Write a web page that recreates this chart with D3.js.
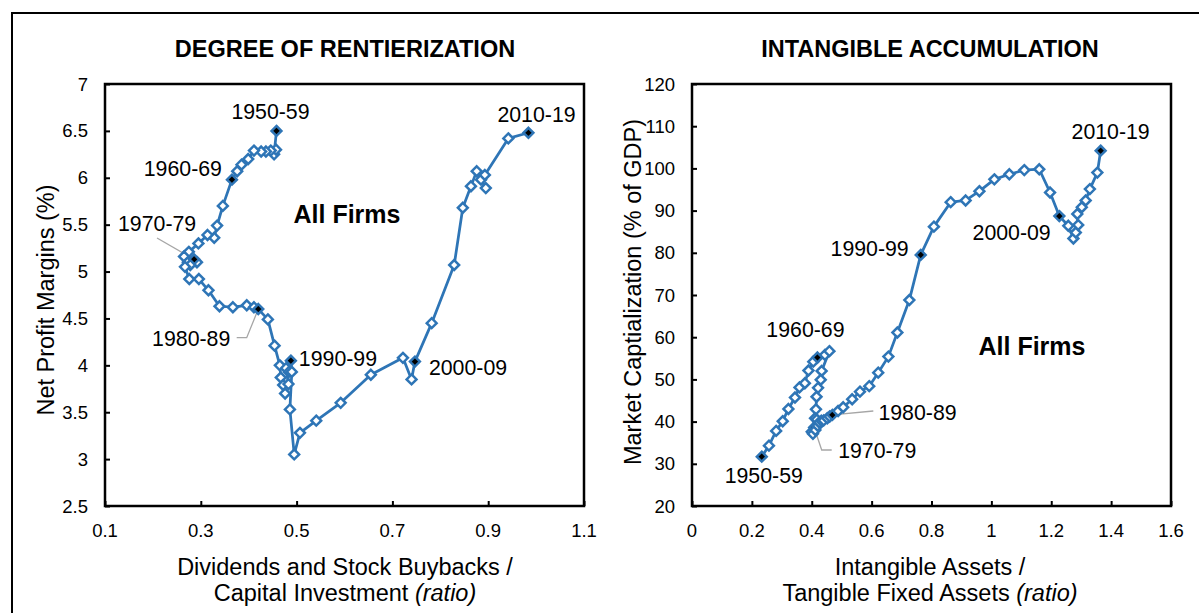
<!DOCTYPE html>
<html><head><meta charset="utf-8">
<script src="https://cdn.jsdelivr.net/npm/d3@7"></script>
<style>
html,body{margin:0;padding:0;background:#fff;}
svg{display:block;font-family:"Liberation Sans",Arial,sans-serif;}
</style></head>
<body><svg id="c" width="1199" height="613"></svg>
<script>
// ---------- DATA ----------
const decadeLabels = ["1950-59","1960-69","1970-79","1980-89","1990-99","2000-09","2010-19"];

// Left chart: Degree of rentierization (10-yr windows, 1950-59 ... 2010-19)
const rentX = [
 0.458,0.453,0.457,0.446,0.436,0.426,0.411,0.399,0.385,0.376,
 0.365,0.346,0.334,0.328,0.314,0.295,0.275,0.265,0.273,0.292,
 0.286,0.278,0.267,0.276,0.296,0.316,0.339,0.367,0.396,0.411,
 0.420,0.440,0.454,0.465,0.467,0.476,0.472,0.483,0.478,0.484,
 0.488,0.490,0.486,0.495,0.507,0.541,0.592,0.655,0.722,0.740,
 0.747,0.782,0.829,0.847,0.864,0.876,0.895,0.885,0.893,0.942,
 0.984];
const rentY = [
 6.50,6.25,6.30,6.29,6.28,6.28,6.29,6.20,6.14,6.07,
 5.98,5.70,5.49,5.36,5.39,5.30,5.21,5.16,5.10,5.10,
 5.13,5.07,5.05,4.92,4.92,4.80,4.63,4.62,4.64,4.62,
 4.60,4.49,4.21,4.00,3.87,3.70,3.79,3.80,3.97,3.93,
 4.05,3.93,3.53,3.05,3.28,3.41,3.60,3.90,4.08,3.85,
 4.04,4.45,5.07,5.68,5.91,6.07,5.89,5.98,6.03,6.42,
 6.48];

// Right chart: Intangible accumulation
const intX = [
 0.233,0.257,0.281,0.303,0.322,0.344,0.359,0.377,0.389,0.405,
 0.419,0.444,0.459,0.433,0.430,0.421,0.416,0.414,0.411,0.400,
 0.408,0.404,0.412,0.420,0.417,0.425,0.432,0.440,0.452,0.460,
 0.469,0.488,0.505,0.535,0.561,0.592,0.622,0.656,0.686,0.726,
 0.764,0.808,0.864,0.914,0.960,1.010,1.060,1.110,1.160,1.196,
 1.227,1.257,1.274,1.282,1.290,1.287,1.302,1.315,1.329,1.354,
 1.365];
const intY = [
 31.7,34.3,37.8,40.1,43.0,45.7,48.1,49.1,52.1,54.2,
 55.2,55.8,56.7,52.0,49.9,48.0,45.9,42.9,40.8,37.6,
 38.6,37.1,38.0,39.0,40.5,39.8,40.2,40.3,40.8,41.2,
 41.6,42.5,43.4,45.3,47.1,48.4,51.6,55.4,61.1,68.8,
 79.5,86.2,92.0,92.4,94.6,97.4,98.6,99.6,99.8,94.3,
 88.7,86.4,83.4,84.8,86.6,89.2,90.8,92.4,95.1,99.0,
 104.2];

const leftXTicks = [0.1,0.3,0.5,0.7,0.9,1.1];
const leftYTicks = [2.5,3,3.5,4,4.5,5,5.5,6,6.5,7];
const rightXTicks = [0,0.2,0.4,0.6,0.8,1,1.2,1.4,1.6];
const rightYTicks = [20,30,40,50,60,70,80,90,100,110,120];

// ---------- LAYOUT ----------
const BLUE = "#2E75B6";
const svg = d3.select("#c");
svg.append("rect").attr("x",12).attr("y",13).attr("width",1300).attr("height",700)
   .attr("fill","none").attr("stroke","#000").attr("stroke-width",2);

function panel(cfg){
  const g = svg.append("g");
  const x = d3.scaleLinear().domain(cfg.xDomain).range([cfg.left,cfg.right]);
  const y = d3.scaleLinear().domain(cfg.yDomain).range([cfg.bottom,cfg.top]);

  const ya = g.append("g").attr("transform",`translate(${cfg.left},0)`)
    .call(d3.axisRight(y).tickValues(cfg.yTicks).tickSize(5).tickFormat(""));
  ya.select(".domain").remove();
  ya.selectAll("line").attr("stroke","#000").attr("stroke-width",2);
  g.selectAll(".ylab").data(cfg.yTicks).join("text")
    .attr("x",cfg.left-17).attr("y",d=>y(d)+6.5).attr("text-anchor","end")
    .attr("font-size",18.5).attr("fill","#000").text(d=>d3.format("")(d));

  const xa = g.append("g").attr("transform",`translate(0,${cfg.bottom})`)
    .call(d3.axisTop(x).tickValues(cfg.xTicks).tickSize(5).tickFormat(""));
  xa.select(".domain").remove();
  xa.selectAll("line").attr("stroke","#000").attr("stroke-width",2);
  g.selectAll(".xlab").data(cfg.xTicks).join("text")
    .attr("x",d=>x(d)).attr("y",cfg.bottom+31).attr("text-anchor","middle")
    .attr("font-size",18.5).attr("fill","#000").text(d=>d3.format("")(d));

  g.append("rect").attr("x",cfg.left).attr("y",cfg.top)
    .attr("width",cfg.right-cfg.left).attr("height",cfg.bottom-cfg.top)
    .attr("fill","none").attr("stroke","#000").attr("stroke-width",2.5);

  g.append("text").attr("x",cfg.titleX).attr("y",57).attr("text-anchor","middle")
    .attr("font-size",23.5).attr("font-weight","bold").text(cfg.title);

  g.append("text").attr("transform",`translate(${cfg.yTitleX},${cfg.yTitleY}) rotate(-90)`)
    .attr("text-anchor","middle").attr("font-size",23.5).text(cfg.yTitle);

  g.append("text").attr("x",cfg.titleX).attr("y",575).attr("text-anchor","middle")
    .attr("font-size",23.5).text(cfg.xTitle1);
  const t2 = g.append("text").attr("x",cfg.titleX).attr("y",601).attr("text-anchor","middle")
    .attr("font-size",23.5);
  t2.append("tspan").text(cfg.xTitle2 + " ");
  t2.append("tspan").attr("font-style","italic").text("(ratio)");

  g.append("text").attr("x",cfg.allX).attr("y",cfg.allY).attr("text-anchor","middle")
    .attr("font-size",25).attr("font-weight","bold").text("All Firms");

  const pts = cfg.xs.map((v,i)=>({x:v,y:cfg.ys[i],i}));
  const line = d3.line().x(d=>x(d.x)).y(d=>y(d.y));
  g.append("path").datum(pts).attr("d",line).attr("fill","none")
    .attr("stroke",BLUE).attr("stroke-width",2.75).attr("stroke-linejoin","round");

  cfg.leaders.forEach(L=>{
    const p = pts[L.idx];
    const coords = L.path.map(c=>[c[0],c[1]]).concat([[x(p.x),y(p.y)]]);
    g.append("path").attr("d",d3.line()(coords)).attr("fill","none")
      .attr("stroke","#a6a6a6").attr("stroke-width",1.3);
  });

  const sym = d3.symbol().type(d3.symbolDiamond2).size(62);
  g.selectAll(".pt").data(pts).join("path")
    .attr("transform",d=>`translate(${x(d.x)},${y(d.y)})`)
    .attr("d",sym).attr("fill",d=>d.i%10===0?"#000":"#fff")
    .attr("stroke",BLUE).attr("stroke-width",2.5);

  decadeLabels.forEach((lab,k)=>{
    const p = pts[k*10]; const o = cfg.labelOff[k];
    g.append("text").attr("x",x(p.x)+o[0]).attr("y",y(p.y)+o[1])
      .attr("text-anchor",o[2]).attr("font-size",21.3).attr("fill","#000").text(lab);
  });
}

panel({
  left:105,right:584,top:84,bottom:506,
  xDomain:[0.1,1.1],yDomain:[2.5,7],xTicks:leftXTicks,yTicks:leftYTicks,
  xs:rentX,ys:rentY,title:"DEGREE OF RENTIERIZATION",titleX:345,
  yTitle:"Net Profit Margins (%)",yTitleX:53.5,yTitleY:300,
  xTitle1:"Dividends and Stock Buybacks /",xTitle2:"Capital Investment",
  allX:347,allY:223,
  labelOff:[[-6,-12,"middle"],[-10,-4,"end"],[-37,-28,"middle"],[-28,37,"end"],[8,5,"start"],[14,13,"start"],[-31,-11,"start"]],
  leaders:[{idx:20,path:[[157,238]]},{idx:30,path:[[236.7,337.7],[246.7,337.7]]}]
});
panel({
  left:692,right:1171,top:84,bottom:506,
  xDomain:[0,1.6],yDomain:[20,120],xTicks:rightXTicks,yTicks:rightYTicks,
  xs:intX,ys:intY,title:"INTANGIBLE ACCUMULATION",titleX:930,
  yTitle:"Market Captialization (% of GDP)",yTitleX:640.5,yTitleY:292,
  xTitle1:"Intangible Assets /",xTitle2:"Tangible Fixed Assets",
  allX:1032,allY:355,
  labelOff:[[2,26,"middle"],[-12,-20,"middle"],[24,30,"start"],[46,5,"start"],[-12,1,"end"],[-8.6,24,"end"],[10,-12,"middle"]],
  leaders:[{idx:20,path:[[831.7,450],[821.7,450]]},{idx:30,path:[[873.3,411]]}]
});
</script></body></html>
